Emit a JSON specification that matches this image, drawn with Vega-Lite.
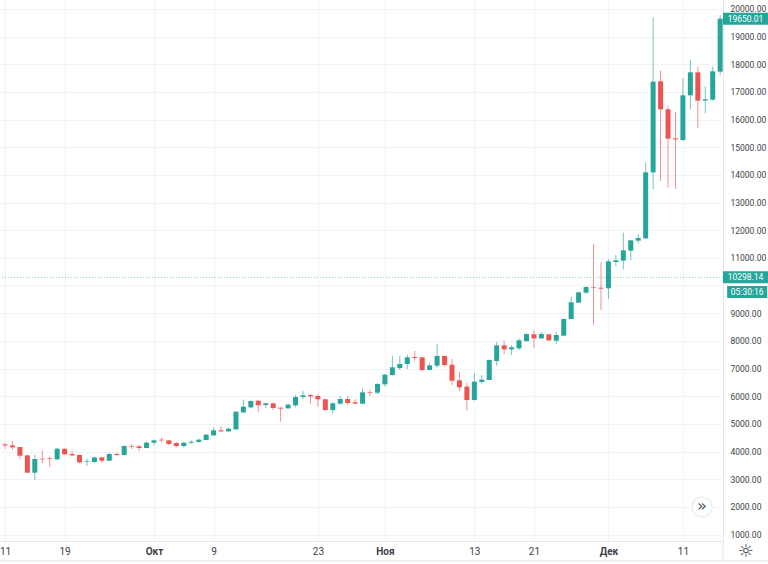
{"$schema":"https://vega.github.io/schema/vega-lite/v6.json","width":723,"height":541,"autosize":{"type":"none"},"padding":{"left":0,"top":0,"right":45,"bottom":23},"background":"#ffffff","view":{"stroke":null},
"datasets":{"candles":[
{"date":"2017-09-10","open":4273,"high":4309,"low":4177,"close":4237},
{"date":"2017-09-11","open":4261,"high":4322,"low":4105,"close":4225},
{"date":"2017-09-12","open":4225,"high":4382,"low":4057,"close":4153},
{"date":"2017-09-13","open":4165,"high":4165,"low":3719,"close":3852},
{"date":"2017-09-14","open":3864,"high":3888,"low":3237,"close":3237},
{"date":"2017-09-15","open":3237,"high":3876,"low":2972,"close":3731},
{"date":"2017-09-16","open":3743,"high":4032,"low":3586,"close":3719},
{"date":"2017-09-17","open":3755,"high":3815,"low":3454,"close":3731},
{"date":"2017-09-18","open":3719,"high":4129,"low":3695,"close":4105},
{"date":"2017-09-19","open":4105,"high":4117,"low":3876,"close":3900},
{"date":"2017-09-20","open":3912,"high":4032,"low":3840,"close":3864},
{"date":"2017-09-21","open":3876,"high":3900,"low":3575,"close":3611},
{"date":"2017-09-22","open":3623,"high":3755,"low":3478,"close":3647},
{"date":"2017-09-23","open":3623,"high":3815,"low":3575,"close":3791},
{"date":"2017-09-24","open":3791,"high":3803,"low":3599,"close":3671},
{"date":"2017-09-25","open":3671,"high":3960,"low":3659,"close":3912},
{"date":"2017-09-26","open":3912,"high":3972,"low":3840,"close":3876},
{"date":"2017-09-27","open":3876,"high":4225,"low":3864,"close":4201},
{"date":"2017-09-28","open":4201,"high":4273,"low":4093,"close":4177},
{"date":"2017-09-29","open":4189,"high":4237,"low":4008,"close":4129},
{"date":"2017-09-30","open":4129,"high":4358,"low":4117,"close":4322},
{"date":"2017-10-01","open":4322,"high":4430,"low":4225,"close":4406},
{"date":"2017-10-02","open":4430,"high":4502,"low":4334,"close":4406},
{"date":"2017-10-03","open":4406,"high":4430,"low":4237,"close":4273},
{"date":"2017-10-04","open":4309,"high":4334,"low":4153,"close":4201},
{"date":"2017-10-05","open":4201,"high":4346,"low":4141,"close":4322},
{"date":"2017-10-06","open":4322,"high":4406,"low":4285,"close":4358},
{"date":"2017-10-07","open":4346,"high":4466,"low":4322,"close":4430},
{"date":"2017-10-08","open":4418,"high":4623,"low":4418,"close":4611},
{"date":"2017-10-09","open":4587,"high":4876,"low":4563,"close":4768},
{"date":"2017-10-10","open":4768,"high":4912,"low":4707,"close":4731},
{"date":"2017-10-11","open":4731,"high":4864,"low":4719,"close":4828},
{"date":"2017-10-12","open":4804,"high":5454,"low":4792,"close":5442},
{"date":"2017-10-13","open":5418,"high":5876,"low":5382,"close":5623},
{"date":"2017-10-14","open":5599,"high":5852,"low":5563,"close":5828},
{"date":"2017-10-15","open":5841,"high":5865,"low":5443,"close":5672},
{"date":"2017-10-16","open":5684,"high":5769,"low":5564,"close":5745},
{"date":"2017-10-17","open":5745,"high":5769,"low":5503,"close":5576},
{"date":"2017-10-18","open":5588,"high":5600,"low":5082,"close":5552},
{"date":"2017-10-19","open":5564,"high":5745,"low":5540,"close":5696},
{"date":"2017-10-20","open":5672,"high":6046,"low":5600,"close":5973},
{"date":"2017-10-21","open":5973,"high":6202,"low":5889,"close":6034},
{"date":"2017-10-22","open":6046,"high":6082,"low":5732,"close":5998},
{"date":"2017-10-23","open":6010,"high":6058,"low":5624,"close":5889},
{"date":"2017-10-24","open":5889,"high":5913,"low":5467,"close":5504},
{"date":"2017-10-25","open":5504,"high":5781,"low":5371,"close":5745},
{"date":"2017-10-26","open":5732,"high":6000,"low":5696,"close":5901},
{"date":"2017-10-27","open":5901,"high":6010,"low":5684,"close":5757},
{"date":"2017-10-28","open":5781,"high":5889,"low":5708,"close":5732},
{"date":"2017-10-29","open":5732,"high":6287,"low":5708,"close":6142},
{"date":"2017-10-30","open":6154,"high":6227,"low":6010,"close":6130},
{"date":"2017-10-31","open":6130,"high":6480,"low":6082,"close":6443},
{"date":"2017-11-01","open":6431,"high":6805,"low":6347,"close":6781},
{"date":"2017-11-02","open":6769,"high":7456,"low":6745,"close":7046},
{"date":"2017-11-03","open":7022,"high":7456,"low":6950,"close":7166},
{"date":"2017-11-04","open":7166,"high":7504,"low":6986,"close":7407},
{"date":"2017-11-05","open":7419,"high":7636,"low":7287,"close":7383},
{"date":"2017-11-06","open":7407,"high":7431,"low":6913,"close":6950},
{"date":"2017-11-07","open":6950,"high":7227,"low":6937,"close":7118},
{"date":"2017-11-08","open":7106,"high":7889,"low":7034,"close":7456},
{"date":"2017-11-09","open":7456,"high":7480,"low":7070,"close":7130},
{"date":"2017-11-10","open":7142,"high":7347,"low":6407,"close":6564},
{"date":"2017-11-11","open":6576,"high":6889,"low":6178,"close":6323},
{"date":"2017-11-12","open":6347,"high":6492,"low":5491,"close":5865},
{"date":"2017-11-13","open":5865,"high":6841,"low":5841,"close":6528},
{"date":"2017-11-14","open":6516,"high":6757,"low":6455,"close":6600},
{"date":"2017-11-15","open":6588,"high":7335,"low":6576,"close":7311},
{"date":"2017-11-16","open":7275,"high":7962,"low":7106,"close":7841},
{"date":"2017-11-17","open":7841,"high":8010,"low":7516,"close":7696},
{"date":"2017-11-18","open":7696,"high":7841,"low":7492,"close":7769},
{"date":"2017-11-19","open":7733,"high":8082,"low":7672,"close":8022},
{"date":"2017-11-20","open":7998,"high":8275,"low":7962,"close":8251},
{"date":"2017-11-21","open":8239,"high":8383,"low":7757,"close":8094},
{"date":"2017-11-22","open":8094,"high":8323,"low":8070,"close":8251},
{"date":"2017-11-23","open":8239,"high":8251,"low":7998,"close":8022},
{"date":"2017-11-24","open":8010,"high":8335,"low":7889,"close":8215},
{"date":"2017-11-25","open":8191,"high":8805,"low":8179,"close":8793},
{"date":"2017-11-26","open":8793,"high":9600,"low":8781,"close":9396},
{"date":"2017-11-27","open":9384,"high":9781,"low":9372,"close":9757},
{"date":"2017-11-28","open":9745,"high":9986,"low":9697,"close":9950},
{"date":"2017-11-29","open":9950,"high":11504,"low":8564,"close":9926},
{"date":"2017-11-30","open":9926,"high":10842,"low":9118,"close":9890},
{"date":"2017-12-01","open":9902,"high":10950,"low":9516,"close":10878},
{"date":"2017-12-02","open":10854,"high":11107,"low":10709,"close":10914},
{"date":"2017-12-03","open":10902,"high":11914,"low":10589,"close":11275},
{"date":"2017-12-04","open":11263,"high":11649,"low":10926,"close":11637},
{"date":"2017-12-05","open":11625,"high":11866,"low":11528,"close":11721},
{"date":"2017-12-06","open":11709,"high":14445,"low":11697,"close":14095},
{"date":"2017-12-07","open":14095,"high":19698,"low":13493,"close":17373},
{"date":"2017-12-08","open":17385,"high":17770,"low":13782,"close":16373},
{"date":"2017-12-09","open":16373,"high":16493,"low":13541,"close":15312},
{"date":"2017-12-10","open":15324,"high":16288,"low":13493,"close":15288},
{"date":"2017-12-11","open":15264,"high":17493,"low":15228,"close":16879},
{"date":"2017-12-12","open":16879,"high":18156,"low":16373,"close":17710},
{"date":"2017-12-13","open":17710,"high":17915,"low":15686,"close":16686},
{"date":"2017-12-14","open":16686,"high":17204,"low":16228,"close":16734},
{"date":"2017-12-15","open":16722,"high":17915,"low":16686,"close":17746},
{"date":"2017-12-16","open":17734,"high":19783,"low":17602,"close":19650.01}
],
"tags":[
{"date":"2017-12-19T09:36:00Z","price":19650.01,"label":"19650.01"},
{"date":"2017-12-19T09:36:00Z","price":10298.14,"label":"10298.14"}
],
"timer":[{"date":"2017-12-19T15:00:00Z","price":9770,"label":"05:30:16"}]},
"layer":[
{"data":{"values":[{"price":10000}]},"mark":{"type":"rule","stroke":"#f0f3fa","strokeWidth":1},"encoding":{"y":{"field":"price","type":"quantitative"}}},
{"data":{"name":"candles"},"mark":{"type":"rule","strokeWidth":1,"opacity":0.65},
"encoding":{
"x":{"field":"date","type":"temporal","title":null,"scale":{"type":"utc","padding":0,"nice":false,"domain":[{"year":2017,"month":9,"date":10,"hours":7,"minutes":53,"utc":true},{"year":2017,"month":12,"date":16,"hours":9,"minutes":7,"utc":true}]},
"axis":{"orient":"bottom","tickCount":30,"values":[{"year":2017,"month":9,"date":11,"utc":true},{"year":2017,"month":9,"date":19,"utc":true},{"year":2017,"month":10,"date":1,"utc":true},{"year":2017,"month":10,"date":9,"utc":true},{"year":2017,"month":10,"date":23,"utc":true},{"year":2017,"month":11,"date":1,"utc":true},{"year":2017,"month":11,"date":13,"utc":true},{"year":2017,"month":11,"date":21,"utc":true},{"year":2017,"month":12,"date":1,"utc":true},{"year":2017,"month":12,"date":11,"utc":true}],
"labelExpr":"utcdate(datum.value)==1 ? (utcmonth(datum.value)==9?'Окт':utcmonth(datum.value)==10?'Ноя':'Дек') : ''+utcdate(datum.value)",
"labelFontWeight":{"condition":{"test":"utcdate(datum.value)==1","value":"bold"},"value":"normal"},
"labelFont":"Roboto","labelFontSize":10,"labelColor":"#3b3f47","labelPadding":5,"labelOverlap":false,"labelFlush":false,"ticks":false,"grid":true,"gridColor":"#f0f3fa","gridWidth":1,"domain":true,"domainColor":"#e3e5ea","zindex":0}},
"y":{"field":"low","type":"quantitative","title":null,"scale":{"domain":[768,20325],"nice":false,"zero":false},
"axis":{"orient":"right","tickCount":30,"values":[1000,2000,3000,4000,5000,6000,7000,8000,9000,11000,12000,13000,14000,15000,16000,17000,18000,19000,20000],"format":".2f","labelFont":"Roboto","labelFontSize":8.5,"labelColor":"#3b3f47","labelPadding":7,"labelOverlap":false,"labelFlush":false,"labelBound":false,"ticks":false,"grid":true,"gridColor":"#f0f3fa","gridWidth":1,"domain":true,"domainColor":"#e3e5ea","zindex":0}},
"y2":{"field":"high"},
"color":{"condition":{"test":"datum.close >= datum.open","value":"#26a69a"},"value":"#ef5350"}}},
{"data":{"name":"candles"},"mark":{"type":"bar","size":5,"cornerRadius":0},
"encoding":{"x":{"field":"date","type":"temporal"},"y":{"field":"open","type":"quantitative"},"y2":{"field":"close"},
"color":{"condition":{"test":"datum.close >= datum.open","value":"#26a69a"},"value":"#ef5350"}}},
{"data":{"values":[{"price":10298.14}]},"mark":{"type":"rule","stroke":"#26a69a","strokeWidth":1,"strokeDash":[1,2],"opacity":0.6},"encoding":{"y":{"field":"price","type":"quantitative"}}},
{"data":{"name":"tags"},"mark":{"type":"rect","width":45,"height":12,"color":"#26a69a"},"encoding":{"x":{"field":"date","type":"temporal"},"y":{"field":"price","type":"quantitative"}}},
{"data":{"name":"tags"},"mark":{"type":"text","color":"#ffffff","font":"Roboto","fontSize":8.5,"align":"center","baseline":"middle"},"encoding":{"x":{"field":"date","type":"temporal"},"y":{"field":"price","type":"quantitative"},"text":{"field":"label"}}},
{"data":{"name":"timer"},"mark":{"type":"rect","width":40,"height":12,"color":"#26a69a"},"encoding":{"x":{"field":"date","type":"temporal"},"y":{"field":"price","type":"quantitative"}}},
{"data":{"name":"timer"},"mark":{"type":"text","color":"#ffffff","font":"Roboto","fontSize":8.5,"align":"center","baseline":"middle"},"encoding":{"x":{"field":"date","type":"temporal"},"y":{"field":"price","type":"quantitative"},"text":{"field":"label"}}},
{"data":{"values":[{"date":"2017-12-13T13:30:00Z","price":1998}]},"mark":{"type":"point","filled":true,"fill":"#ffffff","stroke":"#eceef2","strokeWidth":1.5,"size":400,"opacity":1},"encoding":{"x":{"field":"date","type":"temporal"},"y":{"field":"price","type":"quantitative"}}},
{"data":{"values":[{"date":"2017-12-13T13:30:00Z","price":2020,"label":"»"}]},"mark":{"type":"text","color":"#50535e","font":"DejaVu Sans","fontSize":16,"align":"center","baseline":"middle"},"encoding":{"x":{"field":"date","type":"temporal"},"y":{"field":"price","type":"quantitative"},"text":{"field":"label"}}},
{"data":{"values":[{"start":"2017-09-01","end":"2017-12-30","level":45}]},"mark":{"type":"rule","stroke":"#e3e5ea","strokeWidth":1},"encoding":{"x":{"field":"start","type":"temporal"},"x2":{"field":"end"},"y":{"field":"level","type":"quantitative"}}},
{"data":{"values":[{"date":"2017-12-16T09:07:00Z","top":768,"bottom":45}]},"mark":{"type":"rule","stroke":"#e3e5ea","strokeWidth":1},"encoding":{"x":{"field":"date","type":"temporal"},"y":{"field":"top","type":"quantitative"},"y2":{"field":"bottom"}}},
{"data":{"values":[{"date":"2017-12-19T09:36:00Z","price":371,"label":"☼"}]},"mark":{"type":"text","color":"#3b3f47","font":"DejaVu Sans","fontSize":18,"align":"center","baseline":"middle"},"encoding":{"x":{"field":"date","type":"temporal"},"y":{"field":"price","type":"quantitative"},"text":{"field":"label"}}}
]}
